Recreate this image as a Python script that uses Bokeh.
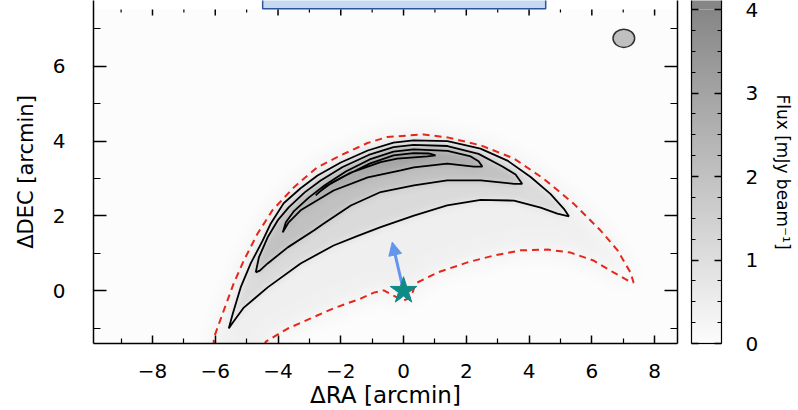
import numpy as np
from bokeh.plotting import figure
from bokeh.layouts import row
from bokeh.models import (FixedTicker, LinearAxis, Range1d, LinearColorMapper,
                          Arrow, NormalHead)
from bokeh.embed import file_html
from bokeh.resources import INLINE

FONT = "DejaVu Sans"

# ---------------------------------------------------------------- data
ra_range = (-9.88, 8.73)        # arcmin
dec_lo, dec_box = -1.41, 7.52   # arcmin, lower edge and tick-box top
dec_hi = 7.76                   # arcmin, top of the visible window
flux_range = (0.0, 4.0)         # mJy / beam
flux_hi = 4.108                 # top of the visible colour bar

ra_ticks = [-8, -6, -4, -2, 0, 2, 4, 6, 8]
ra_minor = [-9, -7, -5, -3, -1, 1, 3, 5, 7]
dec_ticks = [0, 2, 4, 6]
dec_minor = [-1, 1, 3, 5, 7]
flux_ticks = [0, 1, 2, 3, 4]
flux_minor = [0.25, 0.5, 0.75, 1.25, 1.5, 1.75, 2.25, 2.5, 2.75, 3.25, 3.5, 3.75]

# flux contours (closed outlines, outermost first)
c1_ra = [-5.57, -5.44, -5.19, -4.87, -4.49, -4.23, -3.82, -3.28, -2.74, -2.00,
         -1.14, -0.32, 0.32, 1.40, 2.45, 3.31, 4.05, 4.68, 5.11, 5.27,
         4.90, 4.37, 3.52, 2.46, 1.39, 0.33, -0.73, -1.48, -2.23, -3.28,
         -4.33, -5.09, -5.44]
c1_dec = [-1.01, -0.61, 0.09, 0.73, 1.34, 1.80, 2.34, 2.74, 3.08, 3.43,
          3.75, 3.96, 4.02, 4.00, 3.80, 3.48, 3.04, 2.59, 2.19, 1.99,
          2.06, 2.22, 2.41, 2.43, 2.28, 2.01, 1.70, 1.46, 1.21, 0.73,
          0.09, -0.45, -0.85]

c2_ra = [-4.71, -4.61, -4.33, -4.01, -3.66, -3.15, -2.64, -1.94, -1.11, -0.32,
         0.32, 1.40, 2.39, 3.15, 3.57, 3.78,
         3.52, 2.46, 1.39, 0.33, -0.73, -1.68, -2.54, -2.86, -3.69, -4.33, -4.58]
c2_dec = [0.49, 0.89, 1.43, 1.88, 2.23, 2.63, 2.95, 3.31, 3.63, 3.84,
          3.90, 3.87, 3.66, 3.32, 3.11, 2.86,
          2.86, 2.95, 2.95, 2.82, 2.64, 2.28, 1.80, 1.61, 1.16, 0.73, 0.54]

c3_ra = [-3.85, -3.75, -3.50, -3.02, -2.51, -1.84, -1.08, -0.32, 0.32, 1.40,
         2.14, 2.39, 2.51,
         2.24, 1.39, 0.33, -0.09, -1.14, -2.23, -3.28, -3.66]
c3_dec = [1.56, 1.83, 2.12, 2.49, 2.82, 3.19, 3.51, 3.72, 3.78, 3.74,
          3.59, 3.46, 3.32,
          3.32, 3.40, 3.30, 3.22, 3.03, 2.68, 2.15, 1.83]

c4_ra = [-2.80, -2.48, -1.84, -1.08, -0.32, 0.32, 0.80, 1.02,
         0.76, -0.20, -0.73, -1.68, -2.32, -2.70]
c4_dec = [2.55, 2.79, 3.08, 3.40, 3.62, 3.68, 3.67, 3.62,
          3.59, 3.53, 3.44, 3.16, 2.87, 2.63]

# flux level inside the critical-curve halo and inside each contour
band_flux = [0.45, 1.15, 2.0, 2.8, 3.6]

# critical curve (red dashed)
crit_ra = [-6.06, -6.04, -5.73, -5.41, -5.09, -4.65, -4.18, -3.49, -2.75, -2.00,
           -1.15, -0.52, 0.64, 1.40, 2.45, 3.51, 4.46, 5.42, 6.28, 6.82,
           7.23, 7.33,
           7.14, 6.69, 6.05, 5.32, 4.59, 3.73, 2.87, 2.04, 1.09, 0.39,
           0.23, 0.00, -0.32, -0.63, -0.95, -1.37, -2.23, -2.96, -3.69,
           -4.39, -4.45]
crit_dec = [-1.50, -1.25, -0.53, 0.20, 0.81, 1.53, 2.15, 2.77, 3.30, 3.62,
            3.95, 4.11, 4.18, 4.10, 3.89, 3.54, 3.00, 2.33, 1.61, 1.08,
            0.49, 0.22,
            0.28, 0.49, 0.81, 1.02, 1.10, 1.08, 0.94, 0.76, 0.49, 0.20,
            -0.18, -0.26, -0.13, 0.01, -0.05, -0.21, -0.47, -0.74, -1.01,
            -1.36, -1.50]

# source position and its offset vector
star_ra = [0.0]
star_dec = [0.0]
arrow_ra = [0.0, -0.36]
arrow_dec = [0.0, 1.30]

# beam
beam_ra = [7.02]
beam_dec = [6.75]
beam_major = [0.69]
beam_minor = [0.49]

# header box above the panel
box_ra = [-4.49, 4.53]

# ---------------------------------------------------------------- flux map
def inside_polygon(gx, gy, xs, ys):
    mask = np.zeros(gx.shape, dtype=bool)
    n = len(xs)
    j = n - 1
    for i in range(n):
        xi, yi, xj, yj = xs[i], ys[i], xs[j], ys[j]
        if yi != yj:
            crosses = (yi > gy) != (yj > gy)
            xcross = xi + (gy - yi) * (xj - xi) / (yj - yi)
            mask ^= crosses & (gx < xcross)
        j = i
    return mask


def smooth(a, sigma):
    r = int(3 * sigma)
    t = np.arange(-r, r + 1)
    k = np.exp(-0.5 * (t / sigma) ** 2)
    k /= k.sum()
    pa = np.pad(a, r, mode="edge")
    pa = np.apply_along_axis(lambda v: np.convolve(v, k, mode="valid"), 1, pa)
    pa = np.apply_along_axis(lambda v: np.convolve(v, k, mode="valid"), 0, pa)
    return pa


nx, ny = 620, 300
dx = (ra_range[1] - ra_range[0]) / nx
dy = (dec_box - dec_lo) / ny
gx, gy = np.meshgrid(ra_range[0] + (np.arange(nx) + 0.5) * dx,
                     dec_lo + (np.arange(ny) + 0.5) * dy)

halo = band_flux[0] * inside_polygon(gx, gy, crit_ra, crit_dec)
bands = np.zeros_like(gx)
outlines = [(c1_ra, c1_dec), (c2_ra, c2_dec), (c3_ra, c3_dec), (c4_ra, c4_dec)]
for k, (cx, cy) in enumerate(outlines):
    bands += (band_flux[k + 1] - band_flux[k]) * inside_polygon(gx, gy, cx, cy)
flux_map = smooth(halo, 11) + smooth(bands, 3.5)

lo, hi = (252, 252, 252), (134, 134, 134)
greys = ["#%02x%02x%02x" % tuple(int(round(l + (h - l) * f)) for l, h in zip(lo, hi))
         for f in np.linspace(0, 1, 256)]
mapper = LinearColorMapper(palette=greys, low=flux_range[0], high=flux_range[1])

# ---------------------------------------------------------------- main panel
p = figure(width=684, height=410, x_range=Range1d(*ra_range), y_range=Range1d(dec_lo, dec_hi),
           x_axis_location=None, y_axis_location=None, toolbar_location=None,
           output_backend="svg", min_border_left=93, min_border_right=7,
           min_border_top=0, min_border_bottom=67)
p.grid.grid_line_color = None
p.outline_line_color = None
p.background_fill_color = "white"
p.border_fill_color = "white"

p.image(image=[flux_map], x=ra_range[0], y=dec_lo,
        dw=ra_range[1] - ra_range[0], dh=dec_box - dec_lo, color_mapper=mapper)

p.line(crit_ra, crit_dec, line_color="#e5261b", line_width=2, line_dash="7 5")

p.multi_line([cx + cx[:1] for cx, cy in outlines], [cy + cy[:1] for cx, cy in outlines],
             line_color="black", line_width=1.8)

p.ellipse(x=beam_ra, y=beam_dec, width=beam_major, height=beam_minor,
          fill_color="#c0c0c0", line_color="#303030", line_width=1.5)

blue = "#6495ed"
p.add_layout(Arrow(end=NormalHead(size=13, fill_color=blue, line_color=blue, line_width=1),
                   x_start=arrow_ra[0], y_start=arrow_dec[0],
                   x_end=arrow_ra[1], y_end=arrow_dec[1],
                   line_color=blue, line_width=3))
p.scatter(star_ra, star_dec, marker="star", size=28, fill_color="#0e8a87",
          line_color="#0e8a87", level="overlay")

# header box (runs off the top of the window)
p.quad(left=[box_ra[0]], right=[box_ra[1]], bottom=[dec_box + 0.02], top=[dec_hi + 0.5],
       fill_color="#c6d9f1", line_color="#2e5597", line_width=1.5)

# inward ticks hanging from the upper edge of the box
px_per_dec = 343.0 / (dec_hi - dec_lo)
p.segment(x0=ra_ticks, y0=[dec_box] * len(ra_ticks), x1=ra_ticks,
          y1=[dec_box - 6 / px_per_dec] * len(ra_ticks), line_color="black", line_width=1.5)
p.segment(x0=ra_minor, y0=[dec_box] * len(ra_minor), x1=ra_minor,
          y1=[dec_box - 3 / px_per_dec] * len(ra_minor), line_color="black", line_width=1.2)


def minus(v):
    return str(v).replace("-", "\u2212")


def style(ax, tin, tmin):
    ax.axis_line_color = "black"
    ax.axis_line_width = 1.5
    ax.major_tick_line_color = "black"
    ax.minor_tick_line_color = "black"
    ax.major_tick_line_width = 1.5
    ax.minor_tick_line_width = 1.2
    ax.major_tick_in = tin
    ax.major_tick_out = 0
    ax.minor_tick_in = tmin
    ax.minor_tick_out = 0
    ax.major_label_text_font = FONT
    ax.major_label_text_font_size = "20px"
    ax.major_label_text_color = "black"
    ax.axis_label_text_font = FONT
    ax.axis_label_text_font_size = "21px"
    ax.axis_label_text_font_style = "normal"
    ax.axis_label_text_color = "black"


bottom = LinearAxis(ticker=FixedTicker(ticks=ra_ticks, minor_ticks=ra_minor),
                    axis_label="\u0394RA [arcmin]")
style(bottom, 8, 5)
bottom.major_label_overrides = {v: minus(v) for v in ra_ticks}
bottom.major_label_standoff = 20
bottom.axis_label_standoff = 1
bottom.axis_label_text_font_size = "23px"
p.add_layout(bottom, "below")

left = LinearAxis(ticker=FixedTicker(ticks=dec_ticks, minor_ticks=dec_minor),
                  axis_label="\u0394DEC [arcmin]")
style(left, 13, 7)
left.major_label_standoff = 28
left.axis_label_standoff = 12
p.add_layout(left, "left")

right = LinearAxis(ticker=FixedTicker(ticks=dec_ticks, minor_ticks=dec_minor))
style(right, 13, 7)
right.major_label_overrides = {v: "" for v in dec_ticks}
right.major_label_standoff = 0
p.add_layout(right, "right")

# ---------------------------------------------------------------- colour bar
cb = figure(width=114, height=410, x_range=Range1d(0, 1), y_range=Range1d(flux_range[0], flux_hi),
            x_axis_location=None, y_axis_location=None, toolbar_location=None,
            output_backend="svg", min_border_left=7, min_border_right=77,
            min_border_top=0, min_border_bottom=67)
cb.grid.grid_line_color = None
cb.outline_line_color = None
cb.border_fill_color = "white"

ramp = np.linspace(flux_range[0], flux_range[1], 256).reshape(256, 1)
cb.image(image=[ramp], x=0, y=flux_range[0], dw=1, dh=flux_range[1] - flux_range[0],
         color_mapper=mapper)
cb.quad(left=[0], right=[1], bottom=[flux_range[1]], top=[flux_hi + 0.5],
        fill_color=greys[-1], line_color=None)

cb_left = LinearAxis(ticker=FixedTicker(ticks=flux_ticks, minor_ticks=flux_minor))
style(cb_left, 7, 4)
cb_left.axis_line_width = 1.2
cb_left.major_label_overrides = {v: "" for v in flux_ticks}
cb_left.major_label_standoff = 0
cb.add_layout(cb_left, "left")

cb_right = LinearAxis(ticker=FixedTicker(ticks=flux_ticks, minor_ticks=flux_minor),
                      axis_label="Flux [mJy beam\u207b\u00b9]")
style(cb_right, 7, 4)
cb_right.axis_line_width = 1.2
cb_right.major_label_standoff = 24
cb_right.axis_label_standoff = 12
cb_right.axis_label_text_font_size = "17px"
cb.add_layout(cb_right, "right")

cb_bottom = LinearAxis(ticker=FixedTicker(ticks=[]))
cb_bottom.axis_line_color = "black"
cb_bottom.axis_line_width = 1.2
cb_bottom.major_label_standoff = 0
cb_bottom.major_tick_out = 0
cb.add_layout(cb_bottom, "below")

layout = row(p, cb, spacing=0)
open("out.html", "w").write(file_html(layout, INLINE))
